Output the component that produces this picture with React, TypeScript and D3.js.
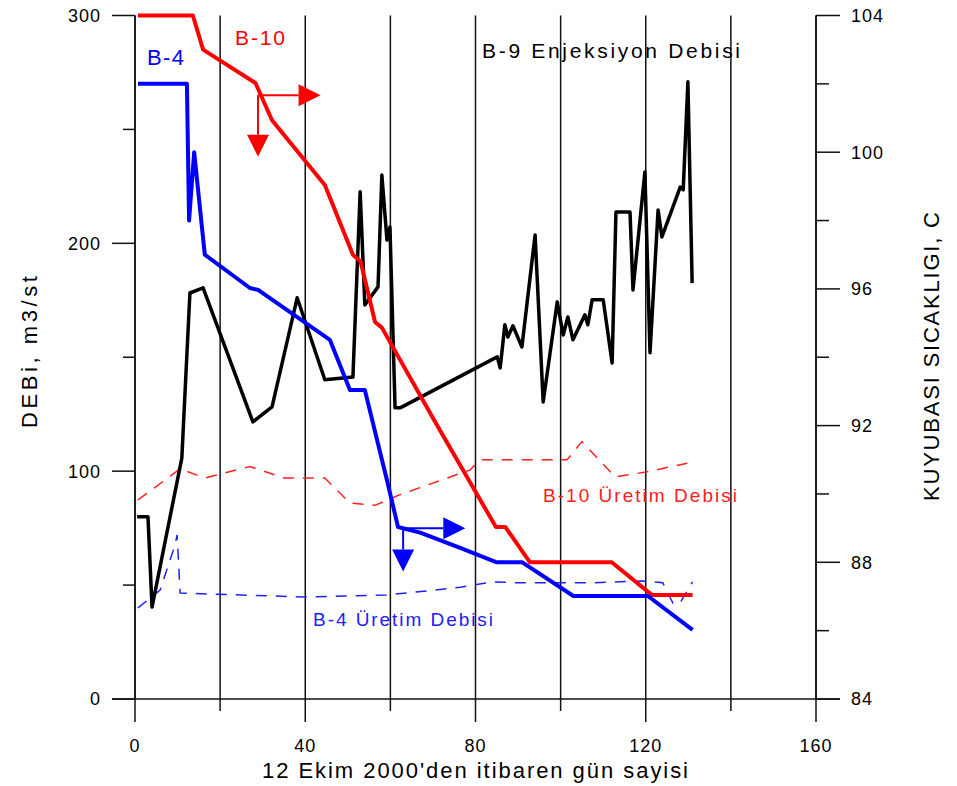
import * as d3 from 'd3'

// B-10 production (thick red), left axis
const b10Days = [0.7, 13.6, 16, 28.3, 32.2, 44.6, 51.2, 53, 56.4, 58, 71, 84.8, 87, 92.8, 112, 121.5, 131]
const b10Q = [300, 300, 285, 270.4, 254, 225.6, 195, 192, 165.5, 163, 120, 75.5, 75.5, 60, 60, 45.6, 45.6]

// B-4 production (thick blue), left axis
const b4Days = [0.7, 12.2, 12.7, 13.9, 16.4, 27, 29, 45.8, 50.5, 54, 59.2, 61.8, 67, 76.4, 85, 91, 103, 120.5, 131]
const b4Q = [270, 270, 210, 240, 195, 180.4, 179.5, 157.6, 135.6, 135.6, 96, 75.5, 73, 66.3, 60, 60, 45.2, 45.2, 30.3]

// B-9 injection wellhead temperature (black), right axis
const b9Days = [0.5, 3.05, 4, 11, 12.9, 16, 27.7, 32.2, 38.1, 44.6, 51.2, 52.9, 54, 57.1, 58, 59.2, 59.9, 61.1, 62.3,
  85.1, 85.8, 86.9, 87.6, 88.8, 90.9, 94, 95.9, 99.2, 100.6, 101.7, 102.9, 105.7, 106.4, 107.4, 110, 112.1, 113,
  116.3, 117, 119.8, 121, 122.9, 123.8, 128.1, 128.8, 129.9, 130.9]
const b9T = [89.33, 89.33, 86.69, 91.05, 95.88, 96.03, 92.11, 92.55, 95.74, 93.34, 93.42, 98.84, 95.53, 96.06, 99.33,
  97.43, 97.81, 92.52, 92.52, 94.01, 93.69, 94.95, 94.59, 94.92, 94.3, 97.58, 92.69, 95.62, 94.65, 95.18, 94.51,
  95.24, 94.95, 95.68, 95.68, 93.83, 98.25, 98.25, 95.97, 99.42, 94.13, 98.31, 97.52, 98.98, 98.9, 102.06, 96.17]

// B-10 Üretim Debisi (dashed red)
const b10uDays = [0.7, 10.6, 16.4, 27, 35, 44.6, 50.5, 56.4, 62, 78.7, 81, 101.5, 105, 112.8, 120, 131]
const b10uQ = [87.4, 101, 97, 102, 97, 97, 86, 85, 89.5, 100.5, 105, 105, 113, 97.5, 99.6, 104]

// B-4 Üretim Debisi (dashed blue)
const b4uDays = [0.7, 5.9, 9.4, 9.9, 10.6, 39.5, 59, 76.4, 84, 90.5, 107.6, 119, 124, 126.4, 128, 131]
const b4uQ = [40, 47.8, 67.6, 72, 46.5, 44.8, 45.6, 49, 51.4, 51, 51, 51.8, 51, 42, 42, 51.4]

const xTicks = [0, 40, 80, 120, 160]
const xMinor = [20, 60, 100, 140]
const yTicks = [0, 100, 200, 300]
const yMinor = [50, 150, 250]
const tTicks = [84, 88, 92, 96, 100, 104]
const tMinor = [86, 90, 94, 98, 102]

// arrow annotations: [day, Q, dayRight, Qdown]
const b10Arrow = [28.9, 265, 43.6, 238]
const b4Arrow = [63, 75, 77.6, 56]

const W = 957
const H = 786
const x = d3.scaleLinear().domain([0, 160]).range([135, 816])
const y = d3.scaleLinear().domain([0, 300]).range([699, 15.5])
const yT = d3.scaleLinear().domain([84, 104]).range([699, 15.5])

const font = 'Liberation Sans, Arial, sans-serif'

function Arrow({ a, color }: { a: number[]; color: string }) {
  const x0 = x(a[0]), y0 = y(a[1]), x1 = x(a[2]), y1 = y(a[3])
  const hl = 22, hw = 11
  return (
    <g fill={color} stroke={color}>
      <line x1={x0} y1={y0} x2={x1 - hl} y2={y0} strokeWidth={2} />
      <path d={`M${x1},${y0} L${x1 - hl},${y0 - hw} L${x1 - hl},${y0 + hw} Z`} stroke="none" />
      <line x1={x0} y1={y0} x2={x0} y2={y1 - hl} strokeWidth={2} />
      <path d={`M${x0},${y1} L${x0 - hw},${y1 - hl} L${x0 + hw},${y1 - hl} Z`} stroke="none" />
    </g>
  )
}

// text stretched to the reference width
function T(props: any) {
  const { len, children, ...rest } = props
  return <text textLength={len} lengthAdjust="spacing" {...rest}>{children}</text>
}

export default function App() {
  const lineQ = (days: number[], q: number[]) =>
    d3.line<number>().x((d) => x(d)).y((_, i) => y(q[i]))(days) as string
  const lineT = d3.line<number>().x((d) => x(d)).y((_, i) => yT(b9T[i]))(b9Days) as string

  return (
    <svg width={W} height={H} style={{ position: 'absolute', left: 0, top: 0, background: '#fff' }}
      fontFamily={font}>
      {/* vertical grid */}
      {[...xTicks, ...xMinor].map((t) => (
        <line key={'g' + t} x1={x(t)} x2={x(t)} y1={y(300)} y2={y(0)} stroke="#111" strokeWidth={1.5} />
      ))}
      {/* bottom line */}
      <line x1={112} x2={840} y1={y(0)} y2={y(0)} stroke="#111" strokeWidth={1.5} />
      {/* left axis */}
      <line x1={x(0)} x2={x(0)} y1={y(300)} y2={y(0)} stroke="#111" strokeWidth={1.5} />
      {yTicks.map((t) => (
        <g key={'y' + t}>
          <line x1={112} x2={x(0)} y1={y(t)} y2={y(t)} stroke="#111" strokeWidth={1.5} />
          <text x={101} y={y(t)} dy="0.36em" textAnchor="end" fontSize={18} letterSpacing={1}>{t}</text>
        </g>
      ))}
      {yMinor.map((t) => (
        <line key={'ym' + t} x1={123} x2={x(0)} y1={y(t)} y2={y(t)} stroke="#111" strokeWidth={1.5} />
      ))}
      {/* right axis */}
      <line x1={x(160)} x2={x(160)} y1={yT(104)} y2={yT(84)} stroke="#111" strokeWidth={1.5} />
      {tTicks.map((t) => (
        <g key={'t' + t}>
          <line x1={x(160)} x2={840} y1={yT(t)} y2={yT(t)} stroke="#111" strokeWidth={1.5} />
          <text x={851} y={yT(t)} dy="0.36em" fontSize={18} letterSpacing={1}>{t}</text>
        </g>
      ))}
      {tMinor.map((t) => (
        <line key={'tm' + t} x1={x(160)} x2={829} y1={yT(t)} y2={yT(t)} stroke="#111" strokeWidth={1.5} />
      ))}
      {/* x ticks */}
      {xTicks.map((t) => (
        <g key={'x' + t}>
          <line x1={x(t)} x2={x(t)} y1={y(0)} y2={722} stroke="#111" strokeWidth={1.5} />
          <text x={x(t)} y={752} textAnchor="middle" fontSize={18} letterSpacing={1}>{t}</text>
        </g>
      ))}
      {xMinor.map((t) => (
        <line key={'xm' + t} x1={x(t)} x2={x(t)} y1={y(0)} y2={711} stroke="#111" strokeWidth={1.5} />
      ))}

      {/* dashed production lines */}
      <path d={lineQ(b10uDays, b10uQ)} fill="none" stroke="#ff2020" strokeWidth={1.5} strokeDasharray="11 9" />
      <path d={lineQ(b4uDays, b4uQ)} fill="none" stroke="#2020ff" strokeWidth={1.5} strokeDasharray="11 9" />

      {/* thick lines */}
      <path d={lineT} fill="none" stroke="#000" strokeWidth={3.5} strokeLinejoin="round" />
      <path d={lineQ(b10Days, b10Q)} fill="none" stroke="#ff0000" strokeWidth={4} strokeLinejoin="round" />
      <path d={lineQ(b4Days, b4Q)} fill="none" stroke="#0000ff" strokeWidth={4} strokeLinejoin="round" />

      <Arrow a={b10Arrow} color="#ff0000" />
      <Arrow a={b4Arrow} color="#0000ff" />

      {/* labels */}
      <T x={147} y={65} fontSize={22} fill="#0000ff" len={37}>B-4</T>
      <T x={235} y={45} fontSize={21} fill="#ff0000" len={50}>B-10</T>
      <T x={482} y={58} fontSize={21} fill="#000" len={258}>B-9 Enjeksiyon Debisi</T>
      <T x={543} y={502} fontSize={19} fill="#ff2020" len={194}>B-10 Üretim Debisi</T>
      <T x={313} y={626} fontSize={19} fill="#2020ff" len={180}>B-4 Üretim Debisi</T>

      <T x={262} y={778} fontSize={22} len={426}>12 Ekim 2000'den itibaren gün sayisi</T>
      <g transform="translate(37,352) rotate(-90)">
        <T x={-76} y={0} fontSize={22} len={152}>DEBi, m3/st</T>
      </g>
      <g transform="translate(939,357) rotate(-90)">
        <T x={-144} y={0} fontSize={22} len={289}>KUYUBASI SICAKLIGI, C</T>
      </g>
    </svg>
  )
}
